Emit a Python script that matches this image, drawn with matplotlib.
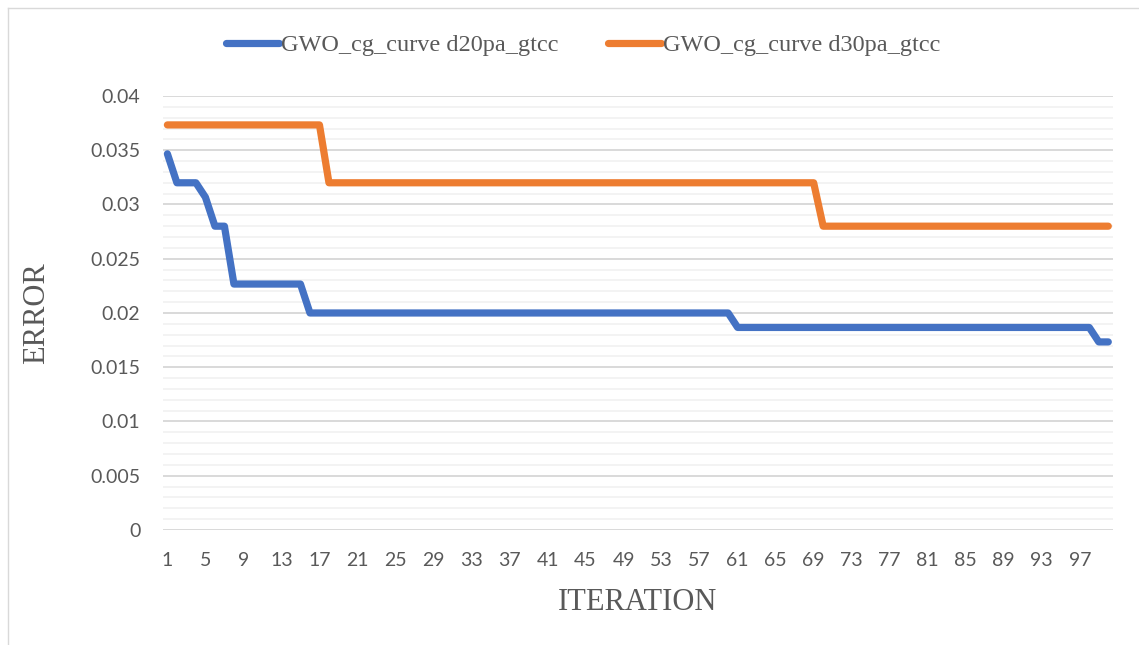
import numpy as np
import matplotlib
matplotlib.use("Agg")
import matplotlib.pyplot as plt
from matplotlib.lines import Line2D
from matplotlib.ticker import MultipleLocator, FixedLocator

# Iterations 1..100
iterations = np.arange(1, 101)

# Convergence curves (error per iteration), stored as runs of (value, count)
d20_runs = [(0.034667, 1), (0.032, 3), (0.030667, 1), (0.028, 2),
            (0.022667, 8), (0.02, 45), (0.018667, 38), (0.017333, 2)]
d30_runs = [(0.037333, 17), (0.032, 52), (0.028, 31)]

d20_error = np.concatenate([[v] * n for v, n in d20_runs])
d30_error = np.concatenate([[v] * n for v, n in d30_runs])

series_names = ["GWO_cg_curve d20pa_gtcc", "GWO_cg_curve d30pa_gtcc"]
series_colors = ["#4472C4", "#ED7D31"]

x_tick_labels = [str(i) for i in range(1, 101, 4)]
y_tick_values = [0, 0.005, 0.01, 0.015, 0.02, 0.025, 0.03, 0.035, 0.04]
y_tick_labels = ["0", "0.005", "0.01", "0.015", "0.02", "0.025", "0.03", "0.035", "0.04"]

W, H = 1139, 645
fig = plt.figure(figsize=(W / 100, H / 100), dpi=100)
ax = fig.add_axes([0.1428, 0.1783, 0.8344, 0.6729])

for y, name, color in zip([d20_error, d30_error], series_names, series_colors):
    ax.plot(iterations, y, color=color, lw=5.2, solid_capstyle="round",
            solid_joinstyle="round", label=name, zorder=3)

ax.set_xlim(0.5, 100.5)
ax.set_ylim(0, 0.04)

ax.xaxis.set_major_locator(FixedLocator(list(range(1, 101, 4))))
ax.set_xticklabels(x_tick_labels)
ax.set_yticks(y_tick_values)
ax.set_yticklabels(y_tick_labels)

ax.grid(False)
for v in np.arange(0, 0.0401, 0.001):
    major = abs(v / 0.005 - round(v / 0.005)) < 1e-6
    ax.axhline(v, color="#D9D9D9" if major else "#F2F2F2",
               lw=1.4 if major else 1.3, zorder=1)

for s in ax.spines.values():
    s.set_visible(False)

ax.tick_params(axis="both", which="both", length=0, colors="#595959", labelsize=14)
ax.tick_params(axis="y", pad=16)
ax.tick_params(axis="x", pad=16)
for lab in ax.get_xticklabels() + ax.get_yticklabels():
    lab.set_fontfamily("Lato")

# Axis titles
fig.text(638 / W, 1 - 602 / H, "ITERATION", fontfamily="Liberation Serif",
         fontsize=22, color="#595959", ha="center", va="center")
fig.text(37 / W, 1 - 313 / H, "ERROR", fontfamily="Liberation Serif",
         fontsize=22, color="#595959", ha="center", va="center", rotation=90)

handles = [Line2D([], [], color=c, lw=5.2, solid_capstyle="round") for c in series_colors]
fig.legend(handles, series_names, loc="center", bbox_to_anchor=(0.512, 0.93),
           ncol=2, frameon=False, handlelength=2.2, handletextpad=0.1,
           columnspacing=2.0,
           prop={"family": "Liberation Serif", "size": 17.5},
           labelcolor="#595959")

# Chart border (left and top edges)
fig.add_artist(Line2D([8 / W, 8 / W], [0, 1 - 8 / H],
                      transform=fig.transFigure, color="#D9D9D9", lw=1))
fig.add_artist(Line2D([8 / W, 1], [1 - 8 / H, 1 - 8 / H],
                      transform=fig.transFigure, color="#D9D9D9", lw=1))

fig.savefig("out.png", dpi=100, facecolor="white")
